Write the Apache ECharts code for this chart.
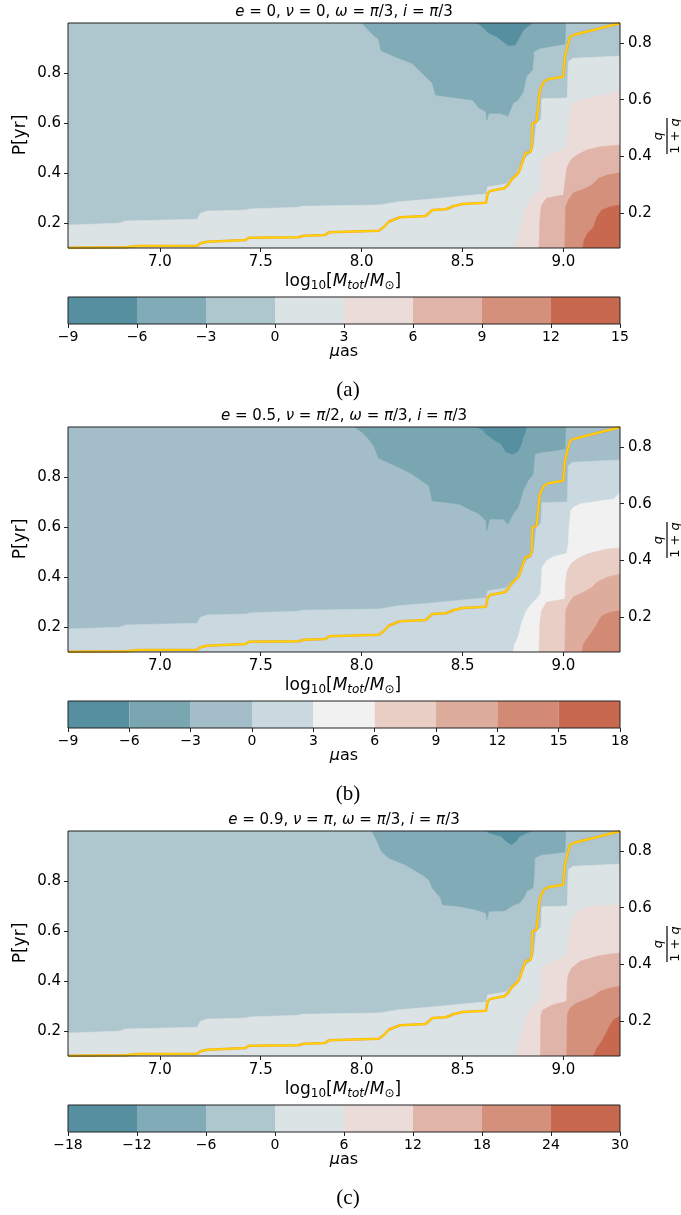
<!DOCTYPE html>
<html><head><meta charset="utf-8">
<script src="https://cdn.jsdelivr.net/npm/echarts@6/dist/echarts.min.js"></script>
<style>html,body{margin:0;padding:0;background:#fff}#c{width:681px;height:1215px}</style>
</head><body><div id="c"></div>
<script>
// ---------- axes ----------
const X_MIN = 6.545, X_MAX = 9.28, Y_MIN = 0.1, Y_MAX = 1.0;
const Q_MIN = 0.0766, Q_MAX = 0.8706;
const xTicks = [7.0, 7.5, 8.0, 8.5, 9.0];
const yTicks = [0.2, 0.4, 0.6, 0.8];
const qTicks = [0.2, 0.4, 0.6, 0.8];

// ---------- colour bars ----------
const levelsA = [-9, -6, -3, 0, 3, 6, 9, 12, 15];
const levelsB = [-9, -6, -3, 0, 3, 6, 9, 12, 15, 18];
const levelsC = [-18, -12, -6, 0, 6, 12, 18, 24, 30];
const coloursAC = ['#568f9f', '#81abb7', '#aec6cd', '#dbe3e5', '#ecdcd9', '#e1b4aa', '#d5907b', '#c8694f'];
const coloursB = ['#568f9f', '#79a6b1', '#a3bec8', '#c9d9df', '#f1f1f1', '#e9cec6', '#deac9d', '#d38a74', '#c8694f'];

// ---------- titles ----------
const titleA = '{i|e} = 0, {i|ν} = 0, {i|ω} = {i|π}/3, {i|i} = {i|π}/3';
const titleB = '{i|e} = 0.5, {i|ν} = {i|π}/2, {i|ω} = {i|π}/3, {i|i} = {i|π}/3';
const titleC = '{i|e} = 0.9, {i|ν} = {i|π}, {i|ω} = {i|π}/3, {i|i} = {i|π}/3';

// ---------- contour boundaries (log10 M, P) ----------
// value-0 contour, shared by the three panels (left edge -> right edge)
const zeroContour = [[6.545,0.192],[6.797,0.199],[6.83,0.208],[7.185,0.215],[7.201,0.239],[7.234,0.248],[7.432,0.252],[7.44,0.256],[7.688,0.263],[7.70,0.267],[8.09,0.272],[8.184,0.285],[8.334,0.295],[8.50,0.308],[8.616,0.316],[8.625,0.345],[8.716,0.356],[8.733,0.372],[8.766,0.396],[8.783,0.425],[8.816,0.465],[8.841,0.481],[8.853,0.505],[8.866,0.599],[8.889,0.615],[8.893,0.697],[9.019,0.700],[9.024,0.845],[9.046,0.859],[9.28,0.868]];

// panel (a)
const aBand0 = [[8.57,1.0],[8.59,0.99],[8.61,0.975],[8.63,0.96],[8.67,0.945],[8.71,0.92],[8.73,0.91],[8.76,0.912],[8.78,0.94],[8.80,0.97],[8.82,0.985],[8.84,0.995],[8.84,1.0]];
const aBand1 = [[8.00,1.0],[8.03,0.975],[8.06,0.95],[8.084,0.935],[8.095,0.89],[8.184,0.859],[8.25,0.839],[8.30,0.799],[8.35,0.759],[8.367,0.712],[8.483,0.699],[8.55,0.692],[8.583,0.659],[8.616,0.645],[8.620,0.612],[8.630,0.639],[8.683,0.639],[8.725,0.628],[8.75,0.679],[8.775,0.692],[8.80,0.725],[8.816,0.785],[8.846,0.812],[8.853,0.885],[8.883,0.899],[9.007,0.916],[9.011,1.0]];
const aBand4 = [[8.758,0.1],[8.775,0.145],[8.791,0.199],[8.808,0.252],[8.824,0.272],[8.849,0.312],[8.879,0.325],[8.891,0.345],[8.891,0.445],[8.908,0.465],[8.941,0.479],[8.991,0.492],[9.016,0.505],[9.024,0.572],[9.033,0.659],[9.049,0.679],[9.082,0.692],[9.166,0.705],[9.249,0.721],[9.28,0.729]];
const aBand5 = [[8.879,0.1],[8.883,0.212],[8.891,0.272],[8.916,0.299],[8.999,0.312],[9.011,0.385],[9.019,0.425],[9.036,0.452],[9.066,0.472],[9.116,0.492],[9.182,0.505],[9.28,0.512]];
const aBand6 = [[9.007,0.1],[9.011,0.265],[9.024,0.292],[9.049,0.321],[9.099,0.335],[9.141,0.352],[9.174,0.379],[9.216,0.392],[9.28,0.401]];
const aBand7 = [[9.096,0.1],[9.102,0.132],[9.119,0.159],[9.149,0.183],[9.166,0.225],[9.19,0.252],[9.232,0.265],[9.28,0.272]];

// panel (b)
const bBand0 = [[8.567,1.0],[8.60,0.99],[8.616,0.972],[8.65,0.952],[8.691,0.932],[8.716,0.899],[8.75,0.892],[8.775,0.903],[8.791,0.932],[8.80,0.959],[8.811,0.979],[8.816,1.0]];
const bBand1 = [[7.966,1.0],[8.0,0.98],[8.031,0.955],[8.06,0.925],[8.084,0.875],[8.184,0.839],[8.25,0.812],[8.334,0.765],[8.35,0.705],[8.483,0.692],[8.55,0.665],[8.583,0.652],[8.616,0.625],[8.62,0.585],[8.633,0.632],[8.70,0.632],[8.725,0.612],[8.75,0.652],[8.775,0.679],[8.80,0.745],[8.824,0.785],[8.849,0.812],[8.858,0.892],[8.891,0.899],[9.007,0.912],[9.011,1.0]];
const bBand4 = [[8.75,0.1],[8.758,0.132],[8.775,0.159],[8.791,0.212],[8.816,0.265],[8.841,0.292],[8.866,0.312],[8.886,0.332],[8.891,0.385],[8.894,0.439],[8.916,0.465],[8.949,0.481],[9.016,0.495],[9.024,0.532],[9.029,0.612],[9.036,0.665],[9.049,0.679],[9.082,0.692],[9.249,0.712],[9.28,0.739]];
const bBand5 = [[8.879,0.1],[8.883,0.212],[8.891,0.265],[8.916,0.299],[9.007,0.312],[9.011,0.385],[9.019,0.425],[9.036,0.452],[9.066,0.472],[9.116,0.492],[9.216,0.512],[9.28,0.516]];
const bBand6 = [[9.007,0.1],[9.011,0.265],[9.024,0.292],[9.049,0.321],[9.099,0.339],[9.141,0.359],[9.166,0.379],[9.216,0.399],[9.28,0.412]];
const bBand7 = [[9.091,0.1],[9.099,0.132],[9.116,0.152],[9.141,0.179],[9.166,0.212],[9.19,0.245],[9.232,0.259],[9.28,0.265]];

// panel (c)
const cBand0 = [[8.616,1.0],[8.633,0.992],[8.691,0.979],[8.716,0.959],[8.741,0.945],[8.766,0.959],[8.783,0.979],[8.816,0.992],[8.841,0.999],[8.841,1.0]];
const cBand1 = [[8.05,1.0],[8.07,0.97],[8.085,0.945],[8.096,0.92],[8.134,0.892],[8.217,0.865],[8.30,0.825],[8.334,0.805],[8.35,0.772],[8.392,0.732],[8.40,0.705],[8.483,0.699],[8.567,0.685],[8.616,0.672],[8.62,0.645],[8.63,0.679],[8.708,0.681],[8.75,0.703],[8.783,0.712],[8.808,0.739],[8.816,0.759],[8.849,0.772],[8.853,0.812],[8.858,0.892],[8.891,0.905],[9.007,0.916],[9.011,1.0]];
const cBand4 = [[8.766,0.1],[8.783,0.159],[8.80,0.212],[8.816,0.259],[8.841,0.292],[8.874,0.319],[8.891,0.345],[8.891,0.439],[8.916,0.465],[8.966,0.485],[9.016,0.499],[9.026,0.559],[9.036,0.625],[9.049,0.659],[9.082,0.685],[9.149,0.699],[9.28,0.705]];
const cBand5 = [[8.886,0.1],[8.888,0.265],[8.899,0.285],[8.949,0.305],[9.016,0.319],[9.019,0.399],[9.024,0.425],[9.041,0.452],[9.082,0.479],[9.166,0.499],[9.232,0.508],[9.28,0.512]];
const cBand6 = [[9.016,0.1],[9.019,0.265],[9.032,0.292],[9.066,0.312],[9.107,0.325],[9.149,0.339],[9.182,0.359],[9.232,0.372],[9.28,0.379]];
const cBand7 = [[9.149,0.1],[9.166,0.132],[9.19,0.159],[9.216,0.199],[9.232,0.225],[9.249,0.245],[9.28,0.259]];

// yellow q/(1+q) line (shared)
const goldLine = [[6.545,0.101],[6.83,0.103],[6.896,0.108],[7.185,0.109],[7.201,0.119],[7.234,0.125],[7.424,0.132],[7.441,0.141],[7.688,0.143],[7.713,0.149],[7.82,0.152],[7.837,0.163],[8.084,0.169],[8.109,0.183],[8.134,0.205],[8.176,0.219],[8.192,0.223],[8.317,0.228],[8.35,0.252],[8.417,0.255],[8.458,0.268],[8.50,0.276],[8.616,0.281],[8.625,0.321],[8.641,0.329],[8.708,0.339],[8.725,0.352],[8.741,0.372],[8.775,0.399],[8.783,0.412],[8.80,0.452],[8.811,0.479],[8.836,0.485],[8.843,0.505],[8.846,0.599],[8.866,0.605],[8.874,0.665],[8.883,0.732],[8.903,0.765],[8.924,0.775],[8.999,0.785],[9.007,0.865],[9.032,0.945],[9.049,0.952],[9.28,0.999]];

// ---------- build ----------
const FONT = "'DejaVu Sans', sans-serif";
const FRAME = '#222';
const fullRect = () => [[X_MIN, Y_MIN], [X_MAX, Y_MIN], [X_MAX, Y_MAX], [X_MIN, Y_MAX]];
const closeZero = pts => [[X_MIN, Y_MIN]].concat(pts, [[X_MAX, Y_MIN]]);
const closeRed = pts => pts.concat([[X_MAX, Y_MIN]]);
const minus = v => (v < 0 ? '\u2212' + Math.abs(v) : String(v));

const panels = [
  { title: titleA, caption: '(a)', levels: levelsA, colours: coloursAC,
    layers: [[2, fullRect()], [1, aBand1], [0, aBand0], [3, closeZero(zeroContour)], [4, closeRed(aBand4)], [5, closeRed(aBand5)], [6, closeRed(aBand6)], [7, closeRed(aBand7)]] },
  { title: titleB, caption: '(b)', levels: levelsB, colours: coloursB,
    layers: [[2, fullRect()], [1, bBand1], [0, bBand0], [3, closeZero(zeroContour)], [4, closeRed(bBand4)], [5, closeRed(bBand5)], [6, closeRed(bBand6)], [7, closeRed(bBand7)]] },
  { title: titleC, caption: '(c)', levels: levelsC, colours: coloursAC,
    layers: [[2, fullRect()], [1, cBand1], [0, cBand0], [3, closeZero(zeroContour)], [4, closeRed(cBand4)], [5, closeRed(cBand5)], [6, closeRed(cBand6)], [7, closeRed(cBand7)]] }
];
const TOPS = [23, 427, 831];
const LEFT = 68, WIDTH = 552, HEIGHT = 225;

const grid = [], xAxis = [], yAxis = [], series = [], graphic = [];
const tickLabel = { fontFamily: FONT, fontSize: 15, color: '#000' };

panels.forEach((p, k) => {
  const T = TOPS[k];
  grid.push({ left: LEFT, top: T, width: WIDTH, height: HEIGHT, show: true, borderColor: FRAME, borderWidth: 1, backgroundColor: 'transparent', z: 10 });
  grid.push({ left: LEFT, top: T + 274, width: WIDTH, height: 27, show: true, borderColor: FRAME, borderWidth: 1, backgroundColor: 'transparent', z: 10 });
  const gMain = 2 * k, gBar = 2 * k + 1;
  xAxis.push({ gridIndex: gMain, type: 'value', min: X_MIN, max: X_MAX, position: 'bottom', z: 10,
    axisLine: { show: false }, splitLine: { show: false },
    axisTick: { show: true, customValues: xTicks, length: 4, lineStyle: { color: FRAME } },
    axisLabel: Object.assign({ customValues: xTicks, margin: 7, formatter: v => v.toFixed(1) }, tickLabel) });
  xAxis.push({ gridIndex: gBar, type: 'value', min: p.levels[0], max: p.levels[p.levels.length - 1],
    interval: p.levels[1] - p.levels[0], position: 'bottom', z: 10,
    axisLine: { show: false }, splitLine: { show: false },
    axisTick: { show: true, length: 4, lineStyle: { color: FRAME } },
    axisLabel: { margin: 6, formatter: minus, fontFamily: FONT, fontSize: 14, color: '#000', showMinLabel: true, showMaxLabel: true } });
  yAxis.push({ gridIndex: gMain, type: 'value', min: Y_MIN, max: Y_MAX, position: 'left', z: 10,
    axisLine: { show: false }, splitLine: { show: false },
    axisTick: { show: true, customValues: yTicks, length: 4, lineStyle: { color: FRAME } },
    axisLabel: Object.assign({ customValues: yTicks, margin: 7, formatter: v => v.toFixed(1) }, tickLabel) });
  yAxis.push({ gridIndex: gMain, type: 'value', min: Q_MIN, max: Q_MAX, position: 'right', z: 10,
    axisLine: { show: false }, splitLine: { show: false },
    axisTick: { show: true, customValues: qTicks, length: 4, lineStyle: { color: FRAME } },
    axisLabel: Object.assign({ customValues: qTicks, margin: 8, formatter: v => v.toFixed(1) }, tickLabel) });
  yAxis.push({ gridIndex: gBar, type: 'value', min: 0, max: 1, show: false });

  const xi = 2 * k, xb = 2 * k + 1, yi = 3 * k, yb = 3 * k + 2;
  const layers = p.layers, colours = p.colours;
  series.push({ type: 'custom', xAxisIndex: xi, yAxisIndex: yi, clip: true, silent: true, z: 2,
    data: layers.map(() => [X_MIN, Y_MIN]),
    renderItem: (params, api) => {
      const L = layers[params.dataIndex];
      const c = colours[L[0]];
      return { type: 'polygon', shape: { points: L[1].map(pt => api.coord(pt)) },
        style: { fill: c, stroke: c, lineWidth: 0.6 } };
    } });
  series.push({ type: 'line', xAxisIndex: xi, yAxisIndex: yi, data: goldLine, showSymbol: false, silent: true, z: 4,
    lineStyle: { color: '#f5a623', width: 2.5 } });
  series.push({ type: 'line', xAxisIndex: xi, yAxisIndex: yi, data: goldLine, showSymbol: false, silent: true, z: 5,
    lineStyle: { color: '#ffd700', width: 1.3 } });
  series.push({ type: 'custom', xAxisIndex: xb, yAxisIndex: yb, silent: true, z: 2,
    data: colours.map((c, i) => [p.levels[i], p.levels[i + 1], i]),
    encode: { x: [0, 1] },
    renderItem: (params, api) => {
      const a = api.coord([api.value(0), 1]), b = api.coord([api.value(1), 0]);
      return { type: 'rect', shape: { x: a[0], y: a[1], width: b[0] - a[0], height: b[1] - a[1] },
        style: { fill: colours[api.value(2)] } };
    } });

  graphic.push({ type: 'text', x: 344, y: T - 11, silent: true,
    style: { text: p.title, fill: '#000', fontFamily: FONT, fontSize: 15, align: 'center', verticalAlign: 'middle',
      rich: { i: { fontStyle: 'italic', fontFamily: FONT, fontSize: 15 } } } });
  graphic.push({ type: 'text', x: 21, y: T + 112, rotation: Math.PI / 2, silent: true,
    style: { text: 'P[yr]', fill: '#000', fontFamily: FONT, fontSize: 17, align: 'center', verticalAlign: 'middle' } });
  graphic.push({ type: 'text', x: 343, y: T + 259, silent: true,
    style: { text: '{n|log}{s|10}{n|[}{i|M}{si|tot}{n|/}{i|M}{s|⊙}{n|]}', fill: '#000', align: 'center', verticalAlign: 'middle',
      rich: { n: { fontFamily: FONT, fontSize: 17 }, i: { fontFamily: FONT, fontSize: 17, fontStyle: 'italic' },
        s: { fontFamily: FONT, fontSize: 12, padding: [8, 0, 0, 0] }, si: { fontFamily: FONT, fontSize: 12, fontStyle: 'italic', padding: [8, 0, 0, 0] } } } });
  graphic.push({ type: 'group', x: 667, y: T + 113, rotation: Math.PI / 2, silent: true, children: [
    { type: 'text', x: 0, y: -8, style: { text: 'q', fill: '#000', fontFamily: FONT, fontSize: 13, fontStyle: 'italic', align: 'center', verticalAlign: 'middle' } },
    { type: 'line', shape: { x1: -18, y1: 0, x2: 18, y2: 0 }, style: { stroke: '#000', lineWidth: 1.2 } },
    { type: 'text', x: 0, y: 9, style: { text: '1 + {i|q}', fill: '#000', fontFamily: FONT, fontSize: 13, align: 'center', verticalAlign: 'middle',
      rich: { i: { fontFamily: FONT, fontSize: 13, fontStyle: 'italic' } } } }
  ] });
  graphic.push({ type: 'text', x: 344, y: T + 329, silent: true,
    style: { text: '{i|μ}as', fill: '#000', fontFamily: FONT, fontSize: 16, align: 'center', verticalAlign: 'middle',
      rich: { i: { fontFamily: FONT, fontSize: 16, fontStyle: 'italic' } } } });
  graphic.push({ type: 'text', x: 348, y: T + 367, silent: true,
    style: { text: p.caption, fill: '#000', fontFamily: "'Liberation Serif', 'DejaVu Serif', serif", fontSize: 21, align: 'center', verticalAlign: 'middle' } });
});

const chart = echarts.init(document.getElementById('c'), null, { renderer: 'canvas', width: 681, height: 1215 });
chart.setOption({ animation: false, backgroundColor: '#fff', grid, xAxis, yAxis, series, graphic });
</script>
</body></html>
